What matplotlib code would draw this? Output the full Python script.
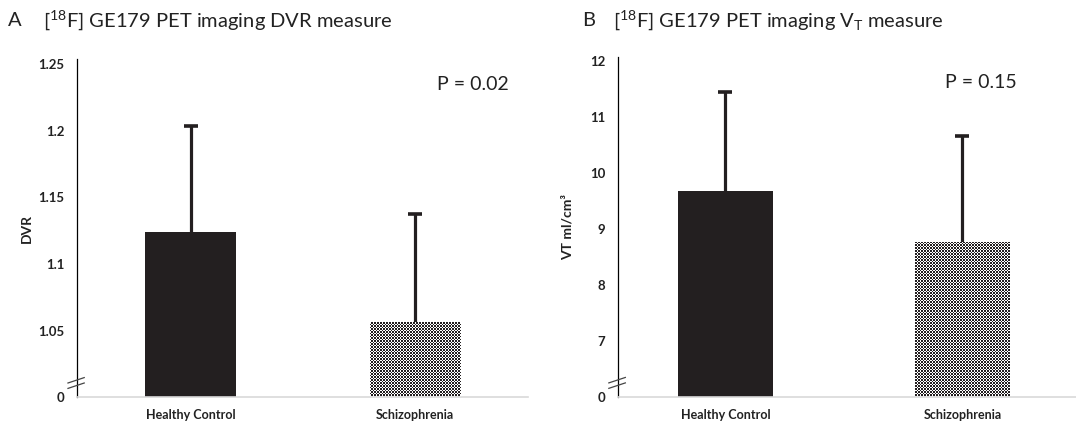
import numpy as np
import matplotlib
matplotlib.use("Agg")
import matplotlib.pyplot as plt

plt.rcParams["font.family"] = ["Lato", "DejaVu Sans"]
plt.rcParams["mathtext.fontset"] = "custom"
plt.rcParams["mathtext.rm"] = "Lato"

groups = ["Healthy Control", "Schizophrenia"]
dvr_mean = [1.123, 1.056]
dvr_sd = [0.080, 0.081]
vt_mean = [9.66, 8.75]
vt_sd = [1.77, 1.90]

dvr_ticks = [1.0, 1.05, 1.1, 1.15, 1.2, 1.25]
dvr_ticklabels = ["0", "1.05", "1.1", "1.15", "1.2", "1.25"]
vt_ticks = [6, 7, 8, 9, 10, 11, 12]
vt_ticklabels = ["0", "7", "8", "9", "10", "11", "12"]

INK = "#231f20"
W, H = 1076, 427


def checker_fill(ax, bar):
    # fine checkerboard like the printed figure, clipped to the bar
    x0, y0 = bar.get_x(), bar.get_y()
    x1, y1 = x0 + bar.get_width(), y0 + bar.get_height()
    (px0, py0), (px1, py1) = ax.transData.transform([(x0, y0), (x1, y1)])
    nx = max(int(round((px1 - px0) / 1.5)), 1)
    ny = max(int(round((py1 - py0) / 1.5)), 1)
    img = (np.indices((ny, nx)).sum(axis=0) % 2).astype(float)
    im = ax.imshow(img, cmap=matplotlib.colors.ListedColormap([INK, "white"]),
                   extent=(x0, x1, y0, y1), interpolation="nearest",
                   aspect="auto", zorder=2)
    im.set_clip_path(bar)


def panel(rect, xlim, ylim, means, sds, ticks, ticklabels, ylabel, ptxt, px, width, lx):
    ax = fig.add_axes(rect)
    ax.set_xlim(*xlim); ax.set_ylim(*ylim)
    base = ylim[0]
    x = np.arange(len(groups))
    bars = ax.bar(x, [m - base for m in means], bottom=base, width=width,
                  color=[INK, "none"], edgecolor="none", zorder=2)
    checker_fill(ax, bars[1])
    # upper error bar only
    tops = [m + s for m, s in zip(means, sds)]
    ax.vlines(x, means, tops, color=INK, lw=2.3, zorder=1)
    ax.plot(x, tops, ls="none", marker="_", ms=10, mew=2.6, color=INK, zorder=1)
    for s in ("top", "right"):
        ax.spines[s].set_visible(False)
    ax.spines["left"].set_color("black"); ax.spines["left"].set_linewidth(0.9)
    ax.spines["bottom"].set_color("#d9d9d9"); ax.spines["bottom"].set_linewidth(1.2)
    ax.set_xticks(x); ax.set_xticklabels(groups, fontsize=9, fontweight="bold")
    ax.set_yticks(ticks); ax.set_yticklabels(ticklabels, fontsize=9.5, fontweight="bold")
    ax.tick_params(axis="both", length=0, colors="#222222")
    ax.tick_params(axis="x", pad=8); ax.tick_params(axis="y", pad=9)
    ax.set_ylabel(ylabel, fontsize=10, fontweight="bold", color="#222222")
    ax.yaxis.set_label_coords(lx, 0.5)
    ax.text(px, 0.926, ptxt, transform=ax.transAxes, fontsize=14,
            ha="center", va="center", color="#222222")
    # axis break marks
    for dy in (0.0, 0.016):
        ax.plot([-0.02, 0.016], [0.04 - dy, 0.056 - dy], transform=ax.transAxes,
                color="#444444", lw=0.9, clip_on=False, zorder=3)
    return ax


fig = plt.figure(figsize=(W / 100, H / 100), dpi=100)

# panel A: DVR, y from 1.0 (shown as 0 after the break)
panel([77 / W, (H - 397.5) / H, 451 / W, 337.5 / H], (-0.5056, 1.503), (1.0, 1.253),
      dvr_mean, dvr_sd, dvr_ticks, dvr_ticklabels, "DVR", "P = 0.02", 0.878, 0.405, -0.097)

# panel B: VT, y from 6 (shown as 0 after the break)
panel([618 / W, (H - 397.5) / H, 458 / W, 340 / H], (-0.4536, 1.479), (6, 12.07),
      vt_mean, vt_sd, vt_ticks, vt_ticklabels, "VT ml/cm\u00b3", "P = 0.15", 0.793, 0.40, -0.096)

ty = 1 - 20 / H
fig.text(8 / W, ty, "A", fontsize=14.5, va="center", color="#222222")
fig.text(43 / W, ty, r"[$\mathregular{^{18}}$F] GE179 PET imaging DVR measure",
         fontsize=14.5, va="center", color="#222222")
fig.text(582 / W, ty, "B", fontsize=14.5, va="center", color="#222222")
fig.text(613 / W, ty, r"[$\mathregular{^{18}}$F] GE179 PET imaging V$\mathregular{_T}$ measure",
         fontsize=14.5, va="center", color="#222222")

fig.savefig("out.png", dpi=100)
